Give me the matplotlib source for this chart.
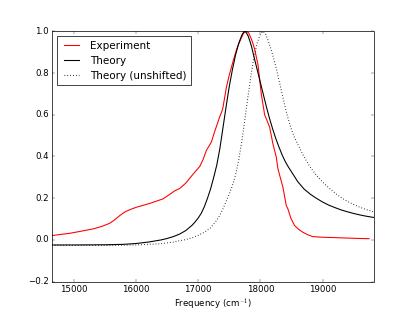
import matplotlib
matplotlib.use("Agg")
import matplotlib.pyplot as plt

plt.style.use('classic')

# Experiment (red)
exp_x = [14647, 14800, 14936, 15100, 15310, 15450, 15578, 15650, 15739, 15820,
         15900, 16008, 16221, 16435, 16569, 16620, 16703, 16800, 16917, 17025,
         17078, 17132, 17212, 17266, 17345, 17380, 17399, 17453, 17500, 17560,
         17620, 17667, 17720, 17750, 17775, 17810, 17860, 17908, 17962, 18015,
         18069, 18110, 18149, 18202, 18256, 18283, 18320, 18363, 18417, 18443,
         18490, 18550, 18620, 18684, 18770, 18845, 19000, 19220, 19500, 19750]
exp_y = [0.021, 0.027, 0.032, 0.041, 0.053, 0.065, 0.080, 0.095, 0.117, 0.134,
         0.145, 0.157, 0.175, 0.197, 0.224, 0.235, 0.247, 0.272, 0.315, 0.352,
         0.385, 0.429, 0.469, 0.520, 0.589, 0.615, 0.635, 0.730, 0.790, 0.855,
         0.915, 0.950, 0.985, 0.998, 1.000, 0.993, 0.960, 0.915, 0.840, 0.700,
         0.600, 0.570, 0.541, 0.461, 0.397, 0.341, 0.300, 0.253, 0.165, 0.149,
         0.105, 0.069, 0.050, 0.037, 0.024, 0.016, 0.013, 0.011, 0.008, 0.006]

# Theory (black solid)
th_x = [14647, 15000, 15500, 15800, 16000, 16200, 16300, 16400, 16500, 16600,
        16700, 16800, 16900, 16950, 17000, 17050, 17100, 17150, 17200, 17250,
        17300, 17350, 17400, 17450, 17500, 17550, 17600, 17650, 17700, 17740,
        17770, 17800, 17830, 17860, 17900, 17950, 18000, 18050, 18100, 18150,
        18200, 18250, 18300, 18350, 18400, 18450, 18500, 18600, 18700, 18800,
        18900, 19000, 19100, 19200, 19300, 19400, 19500, 19600, 19700, 19820]
th_y = [-0.024, -0.024, -0.023, -0.021, -0.017, -0.010, -0.005, 0.000, 0.007, 0.016,
        0.028, 0.045, 0.070, 0.086, 0.105, 0.128, 0.160, 0.200, 0.245, 0.300,
        0.360, 0.440, 0.540, 0.640, 0.735, 0.815, 0.885, 0.940, 0.980, 1.000,
        0.995, 0.980, 0.955, 0.925, 0.875, 0.815, 0.755, 0.695, 0.635, 0.580,
        0.530, 0.485, 0.445, 0.408, 0.376, 0.350, 0.327, 0.280, 0.245, 0.220,
        0.200, 0.182, 0.167, 0.155, 0.144, 0.135, 0.127, 0.120, 0.114, 0.108]

# Theory unshifted (black dotted)
un_x = [14647, 15500, 16000, 16400, 16600, 16800, 16900, 17000, 17100, 17200,
        17300, 17350, 17400, 17450, 17500, 17550, 17600, 17650, 17700, 17750,
        17800, 17850, 17900, 17950, 18000, 18042, 18080, 18120, 18160, 18200,
        18250, 18300, 18350, 18400, 18450, 18500, 18550, 18600, 18700, 18800,
        18900, 19000, 19100, 19200, 19300, 19400, 19500, 19600, 19700, 19820]
un_y = [-0.026, -0.026, -0.024, -0.018, -0.010, 0.002, 0.010, 0.022, 0.037, 0.058,
        0.095, 0.120, 0.150, 0.185, 0.220, 0.260, 0.310, 0.380, 0.470, 0.575,
        0.685, 0.790, 0.880, 0.945, 0.985, 1.000, 0.990, 0.960, 0.925, 0.885,
        0.830, 0.765, 0.700, 0.635, 0.578, 0.530, 0.490, 0.460, 0.400, 0.350,
        0.310, 0.278, 0.250, 0.225, 0.203, 0.185, 0.170, 0.157, 0.146, 0.135]

fig = plt.figure(figsize=(8, 6.034), dpi=51.875)
ax = fig.add_subplot(111)
ax.plot(exp_x, exp_y, 'r-', lw=1.5, label='Experiment')
ax.plot(th_x, th_y, 'k-', lw=1.5, label='Theory')
ax.plot(un_x, un_y, 'k:', lw=1.5, label='Theory (unshifted)')
ax.set_xlim(14647, 19820)
ax.set_ylim(-0.2, 1.0)
ax.set_xlabel('Frequency (cm$^{-1}$)')
ax.legend(loc='upper left')
fig.savefig('out.png', dpi=51.875)
